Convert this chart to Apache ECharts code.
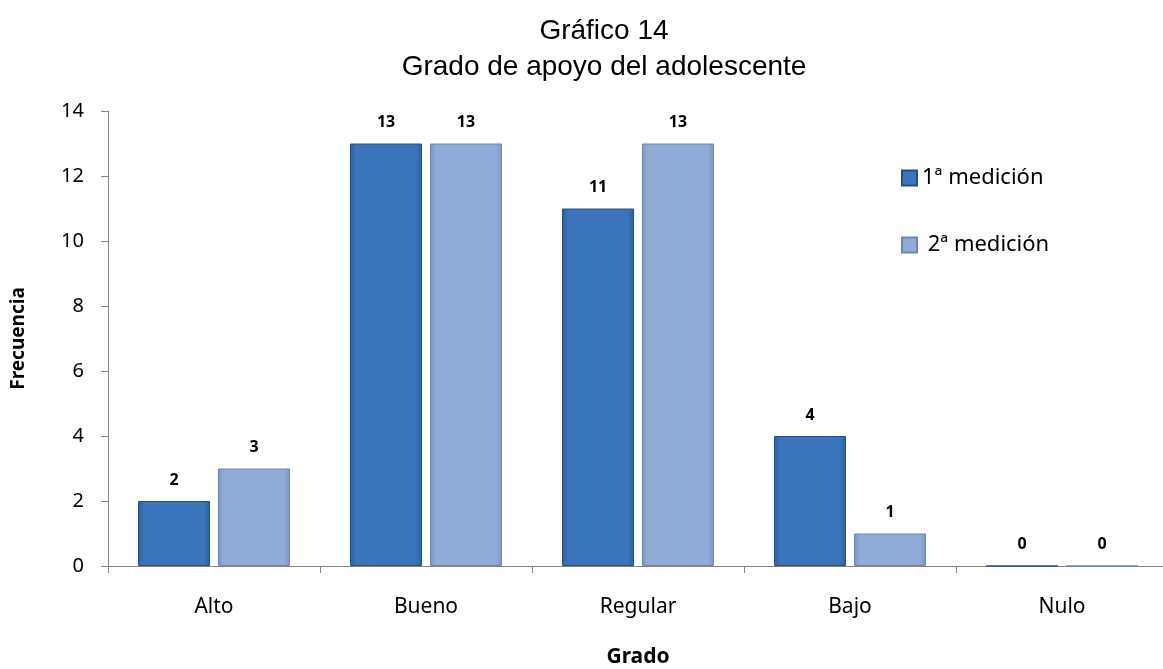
<!DOCTYPE html>
<html>
<head>
<meta charset="utf-8">
<script src="https://cdn.jsdelivr.net/npm/echarts@6/dist/echarts.min.js"></script>
<style>
  html, body { margin: 0; padding: 0; background: #fff; }
  #chart { width: 1163px; height: 669px; }
</style>
</head>
<body>
<div id="chart"></div>
<script>
// datos del gráfico
const categories = ['Alto', 'Bueno', 'Regular', 'Bajo', 'Nulo']
const medicion1 = [2, 13, 11, 4, 0]
const medicion2 = [3, 13, 13, 1, 0]
const seriesNames = ['1ª medición', ' 2ª medición']

const chart = echarts.init(document.getElementById('chart'))

const labelFont = '"Noto Sans", "Open Sans", sans-serif'

const barLabel = {
  show: true,
  position: 'top',
  distance: 13,
  color: '#000',
  fontWeight: 'bold',
  fontSize: 16,
  fontFamily: labelFont
}

const option = {
  backgroundColor: '#fff',
  animation: false,
  title: {
    text: 'Gráfico 14\nGrado de apoyo del adolescente',
    left: 599,
    textAlign: 'center',
    top: 8,
    textStyle: {
      fontFamily: '"Liberation Sans", Arial, sans-serif',
      fontWeight: 'normal',
      fontSize: 28,
      lineHeight: 36,
      color: '#000'
    }
  },
  legend: {
    orient: 'vertical',
    left: 896,
    top: 162,
    itemGap: 45,
    itemWidth: 15,
    itemHeight: 15,
    icon: 'rect',
    textStyle: { fontSize: 22, fontFamily: labelFont, color: '#000' },
    data: seriesNames
  },
  grid: {
    left: 108,
    right: -5,
    top: 111,
    bottom: 103,
    outerBoundsMode: 'none'
  },
  xAxis: {
    type: 'category',
    data: categories,
    name: 'Grado',
    nameLocation: 'middle',
    nameGap: 81,
    nameTextStyle: { fontWeight: 'bold', fontSize: 21, fontFamily: labelFont, color: '#000' },
    axisLine: { lineStyle: { color: '#868686' } },
    axisTick: { show: true, length: 7, lineStyle: { color: '#868686' } },
    axisLabel: { fontSize: 21, fontFamily: labelFont, color: '#000', margin: 31 }
  },
  yAxis: {
    type: 'value',
    min: 0,
    max: 14,
    interval: 2,
    name: 'Frecuencia',
    nameLocation: 'middle',
    nameGap: 80,
    nameRotate: 90,
    nameTextStyle: { fontWeight: 'bold', fontSize: 19, fontFamily: labelFont, color: '#000' },
    splitLine: { show: false },
    axisLine: { show: true, lineStyle: { color: '#868686' } },
    axisTick: { show: true, length: 7, lineStyle: { color: '#868686' } },
    axisLabel: { fontSize: 20, fontFamily: labelFont, color: '#000', margin: 24 }
  },
  series: [
    {
      name: seriesNames[0],
      type: 'bar',
      data: medicion1,
      barWidth: 72,
      barGap: '11%',
      label: barLabel,
      itemStyle: {
        color: new echarts.graphic.LinearGradient(0, 0, 1, 0, [
          { offset: 0, color: '#2c5f9f' },
          { offset: 0.08, color: '#3a74ba' },
          { offset: 0.92, color: '#3a74ba' },
          { offset: 1, color: '#2c5f9f' }
        ]),
        borderColor: '#24508a',
        borderWidth: 1
      }
    },
    {
      name: seriesNames[1],
      type: 'bar',
      data: medicion2,
      barWidth: 72,
      label: barLabel,
      itemStyle: {
        color: new echarts.graphic.LinearGradient(0, 0, 1, 0, [
          { offset: 0, color: '#7c96c4' },
          { offset: 0.08, color: '#91abd9' },
          { offset: 0.92, color: '#91abd9' },
          { offset: 1, color: '#7c96c4' }
        ]),
        borderColor: '#6d86b3',
        borderWidth: 1
      }
    }
  ]
}

chart.setOption(option)
</script>
</body>
</html>
